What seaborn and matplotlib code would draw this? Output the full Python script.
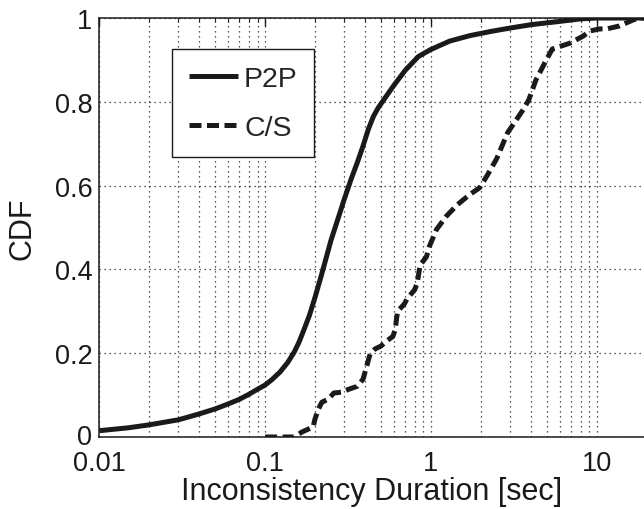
import numpy as np
import pandas as pd
import seaborn as sns
import matplotlib.pyplot as plt
from matplotlib.ticker import LogLocator, FixedLocator, NullFormatter
from matplotlib.transforms import ScaledTranslation

# P2P curve
p2p_x = [0.01, 0.015, 0.02, 0.03, 0.04, 0.05, 0.06, 0.07, 0.08, 0.09, 0.1,
         0.11, 0.123, 0.137, 0.15, 0.16, 0.17, 0.185, 0.2, 0.22, 0.25, 0.28,
         0.3, 0.33, 0.36, 0.39, 0.42, 0.45, 0.48, 0.52, 0.6, 0.7, 0.84, 1.0,
         1.3, 1.72, 2.3, 3.0, 4.0, 6.0, 8.0, 10.0, 19.3]
p2p_y = [0.015, 0.022, 0.029, 0.041, 0.055, 0.067, 0.079, 0.09, 0.102, 0.114,
         0.124, 0.137, 0.155, 0.178, 0.203, 0.226, 0.252, 0.29, 0.333, 0.39,
         0.47, 0.53, 0.567, 0.615, 0.655, 0.695, 0.735, 0.765, 0.785, 0.805,
         0.84, 0.875, 0.908, 0.925, 0.945, 0.958, 0.968, 0.976, 0.984, 0.992,
         0.998, 1.0, 1.0]

# C/S curve
cs_x = [0.1, 0.15, 0.167, 0.195, 0.2, 0.21, 0.22, 0.24, 0.26, 0.29, 0.32,
        0.36, 0.39, 0.41, 0.43, 0.46, 0.5, 0.54, 0.59, 0.61, 0.62, 0.63,
        0.69, 0.72, 0.8, 0.83, 0.86, 0.94, 0.98, 1.08, 1.24, 1.45, 1.72,
        1.97, 2.2, 2.5, 2.9, 3.6, 3.9, 4.3, 4.97, 5.4, 6.9, 8.3, 9.1, 10.4,
        11.5, 13.7, 16.5, 18.0, 19.3]
cs_y = [0.0, 0.0, 0.012, 0.024, 0.043, 0.067, 0.083, 0.09, 0.105, 0.107,
        0.114, 0.121, 0.138, 0.169, 0.198, 0.21, 0.217, 0.229, 0.24, 0.257,
        0.281, 0.3, 0.317, 0.33, 0.352, 0.37, 0.41, 0.43, 0.455, 0.495,
        0.527, 0.555, 0.579, 0.595, 0.626, 0.665, 0.726, 0.781, 0.805, 0.852,
        0.9, 0.926, 0.94, 0.957, 0.969, 0.974, 0.974, 0.981, 0.995, 1.0, 1.0]

y_ticks = [0, 0.2, 0.4, 0.6, 0.8, 1]
y_labels = ['0', '0.2', '0.4', '0.6', '0.8', '1']
x_ticks = [0.01, 0.1, 1, 10]
x_labels = ['0.01', '0.1', '1', '10']

sns.set_theme(style='white')
plt.rcParams['font.family'] = ['Liberation Sans', 'DejaVu Sans']

fig = plt.figure(figsize=(6.44, 5.10), dpi=100)
ax = fig.add_axes([0.1542, 0.1412, 1.0 - 0.1542, 0.9627 - 0.1412])

df_p2p = pd.DataFrame({'x': p2p_x, 'y': p2p_y})
df_cs = pd.DataFrame({'x': cs_x, 'y': cs_y})

sns.lineplot(data=df_p2p, x='x', y='y', ax=ax, color='#1a1a1a', linewidth=3.6,
             label='P2P', solid_capstyle='butt', solid_joinstyle='round')
sns.lineplot(data=df_cs, x='x', y='y', ax=ax, color='#1a1a1a', linewidth=3.6,
             linestyle=(0, (2.4, 1.1)), label='C/S', dash_capstyle='butt')

ax.set_xscale('log')
ax.set_xlim(0.01, 19.3)
ax.set_ylim(0, 1)

ax.xaxis.set_major_locator(FixedLocator(x_ticks))
ax.set_xticklabels(x_labels)
ax.xaxis.set_minor_locator(LogLocator(base=10, subs=np.arange(2, 10)))
ax.xaxis.set_minor_formatter(NullFormatter())
ax.set_yticks(y_ticks)
ax.set_yticklabels(y_labels)

ax.grid(True, which='both', axis='x', linestyle=(0, (1, 3)), color='#222222', linewidth=0.9)
ax.grid(True, which='major', axis='y', linestyle=(0, (1, 3)), color='#222222', linewidth=0.9)

ax.tick_params(axis='both', which='major', direction='in', length=6, width=1,
               labelsize=19.5, colors='#1a1a1a', top=True, right=False)
ax.tick_params(axis='x', which='major', pad=9.5)
ax.tick_params(axis='y', which='major', pad=5)
ax.tick_params(axis='x', which='minor', direction='in', length=3, width=0.8, top=True)

# nudge the "0" label up a little, as in the original
zero_lbl = ax.yaxis.get_major_ticks()[0].label1
zero_lbl.set_transform(zero_lbl.get_transform() + ScaledTranslation(0, 2.5 / 72, fig.dpi_scale_trans))

for s in ['left', 'bottom', 'top']:
    ax.spines[s].set_color('#1a1a1a')
    ax.spines[s].set_linewidth(1.1)
ax.spines['right'].set_visible(False)

ax.set_xlabel('Inconsistency Duration [sec]', fontsize=22, color='#1a1a1a', labelpad=0)
ax.set_ylabel('CDF', fontsize=22, color='#1a1a1a', labelpad=12)

leg = ax.legend(loc='upper left', bbox_to_anchor=(172 / 644, 1 - 50 / 510),
                bbox_transform=fig.transFigure, borderaxespad=0, fontsize=20.5,
                frameon=True, fancybox=False, framealpha=1, handlelength=1.75,
                handletextpad=0.2, borderpad=0.58, labelspacing=0.82)
leg.get_frame().set_edgecolor('#1a1a1a')
leg.get_frame().set_linewidth(1.0)

fig.savefig('out.png', dpi=100)
